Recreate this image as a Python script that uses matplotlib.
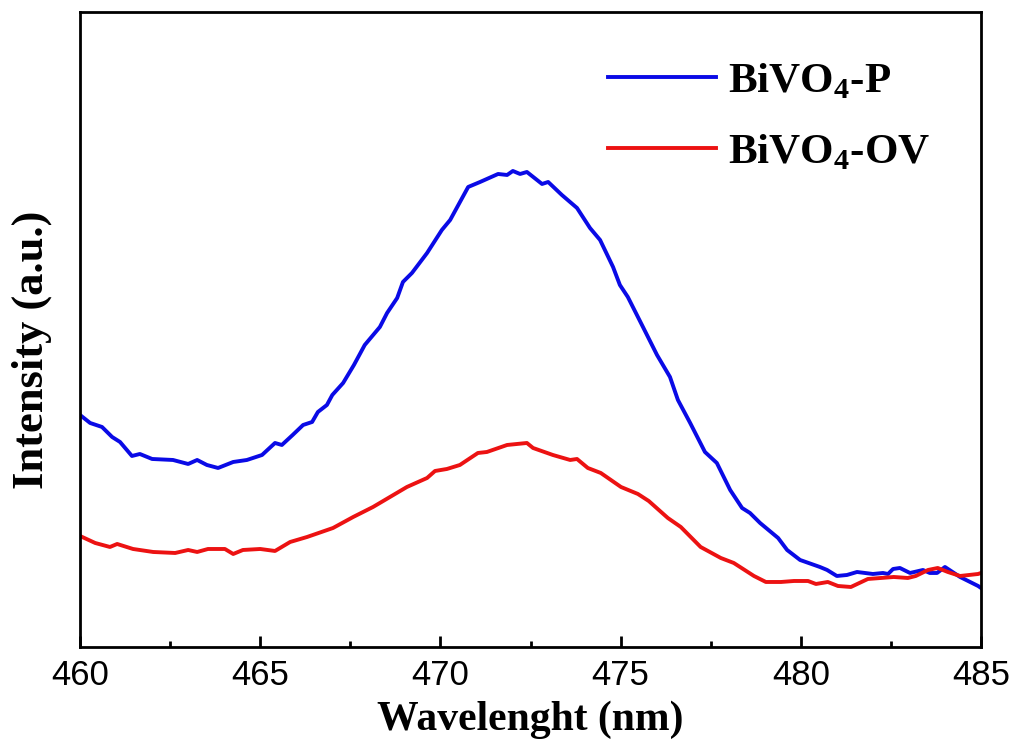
import matplotlib
matplotlib.use("Agg")
import matplotlib.pyplot as plt
from matplotlib.ticker import MultipleLocator

# PL spectra, intensity in arbitrary units
wl_p = [460.00, 460.28, 460.61, 460.89, 461.11, 461.44, 461.66, 462.00, 462.58, 463.00,
        463.25, 463.52, 463.83, 464.25, 464.63, 465.05, 465.41, 465.60, 465.90, 466.19,
        466.44, 466.60, 466.85, 467.00, 467.30, 467.60, 467.90, 468.32, 468.52, 468.80,
        468.96, 469.21, 469.63, 470.04, 470.27, 470.77, 471.10, 471.60, 471.85, 472.01,
        472.21, 472.40, 472.82, 472.99, 473.37, 473.79, 474.15, 474.43, 474.79, 474.98,
        475.20, 475.62, 476.01, 476.37, 476.59, 476.93, 477.34, 477.67, 478.04, 478.37,
        478.59, 478.87, 479.37, 479.62, 479.98, 480.53, 480.73, 481.00, 481.28, 481.56,
        482.00, 482.28, 482.42, 482.56, 482.75, 483.03, 483.39, 483.58, 483.78, 484.00,
        484.42, 484.92, 485.00]
int_p = [232, 224, 220, 210, 205, 191, 193, 188, 187, 183,
         187, 182, 179, 185, 187, 192, 204, 202, 212, 222,
         225, 235, 242, 252, 264, 282, 302, 320, 334, 349,
         365, 374, 394, 417, 427, 460, 465, 473, 472, 476,
         473, 475, 463, 465, 452, 439, 419, 407, 380, 362,
         350, 320, 292, 270, 247, 224, 195, 184, 157, 139,
         134, 124, 109, 97, 87, 80, 77, 71, 72, 75,
         73, 74, 73, 78, 79, 74, 77, 74, 74, 80,
         70, 61, 59]

wl_ov = [460.00, 460.42, 460.83, 461.03, 461.47, 462.03, 462.64, 463.00, 463.25, 463.55,
         464.02, 464.25, 464.52, 465.00, 465.41, 465.83, 466.30, 467.02, 467.58, 468.13,
         468.60, 469.07, 469.63, 469.85, 470.18, 470.54, 471.04, 471.29, 471.85, 472.40,
         472.57, 473.12, 473.60, 473.79, 474.09, 474.45, 475.01, 475.48, 475.78, 476.31,
         476.67, 477.22, 477.78, 478.14, 478.70, 479.03, 479.45, 479.81, 480.20, 480.42,
         480.75, 481.03, 481.39, 481.86, 482.22, 482.58, 482.97, 483.19, 483.53, 483.80,
         484.08, 484.42, 484.92, 485.00]
int_ov = [111, 104, 100, 103, 98, 95, 94, 97, 95, 98,
          98, 93, 97, 98, 96, 105, 110, 119, 130, 140,
          150, 160, 169, 176, 178, 182, 194, 195, 202, 204,
          199, 192, 187, 188, 179, 174, 160, 153, 146, 129,
          120, 100, 89, 84, 71, 65, 65, 66, 66, 63,
          65, 61, 60, 68, 69, 70, 69, 71, 77, 79,
          75, 71, 73, 74]

plt.rcParams['mathtext.fontset'] = 'custom'
plt.rcParams['mathtext.rm'] = 'Liberation Serif:bold'
plt.rcParams['mathtext.bf'] = 'Liberation Serif:bold'

fig = plt.figure(figsize=(10.17, 7.44), dpi=100)
ax = fig.add_axes([0.0787, 0.1304, 0.8859, 0.8535])

ax.plot(wl_p, int_p, color='#0a0ae6', lw=2.8, label='BiVO$_4$-P')
ax.plot(wl_ov, int_ov, color='#ec1212', lw=2.8, label='BiVO$_4$-OV')

ax.set_xlim(460, 485)
ax.set_ylim(0, 635)
ax.xaxis.set_major_locator(MultipleLocator(5))
ax.xaxis.set_minor_locator(MultipleLocator(2.5))
ax.tick_params(axis='x', which='major', direction='in', length=8, width=2, pad=9,
               labelsize=25, top=False)
ax.tick_params(axis='x', which='minor', direction='in', length=4.5, width=2, top=False)
ax.tick_params(axis='y', left=False, labelleft=False)
for lab in ax.get_xticklabels():
    lab.set_fontfamily('Liberation Sans')
for sp in ax.spines.values():
    sp.set_linewidth(2)

ax.set_xlabel('Wavelenght (nm)', fontfamily='Liberation Serif', fontweight='bold',
              fontsize=30, labelpad=6)
ax.set_ylabel('Intensity (a.u.)', fontfamily='Liberation Serif', fontweight='bold',
              fontsize=32)
ax.yaxis.set_label_coords(-0.031, 0.468)

leg = ax.legend(loc='upper left', bbox_to_anchor=(608 / 1017, 1 - 61 / 744),
                bbox_transform=fig.transFigure, frameon=False, handlelength=2.5,
                handletextpad=0.28, labelspacing=0.72, borderaxespad=0, borderpad=0,
                prop={'family': 'Liberation Serif', 'weight': 'bold', 'size': 31})

fig.savefig('out.png', dpi=100)
